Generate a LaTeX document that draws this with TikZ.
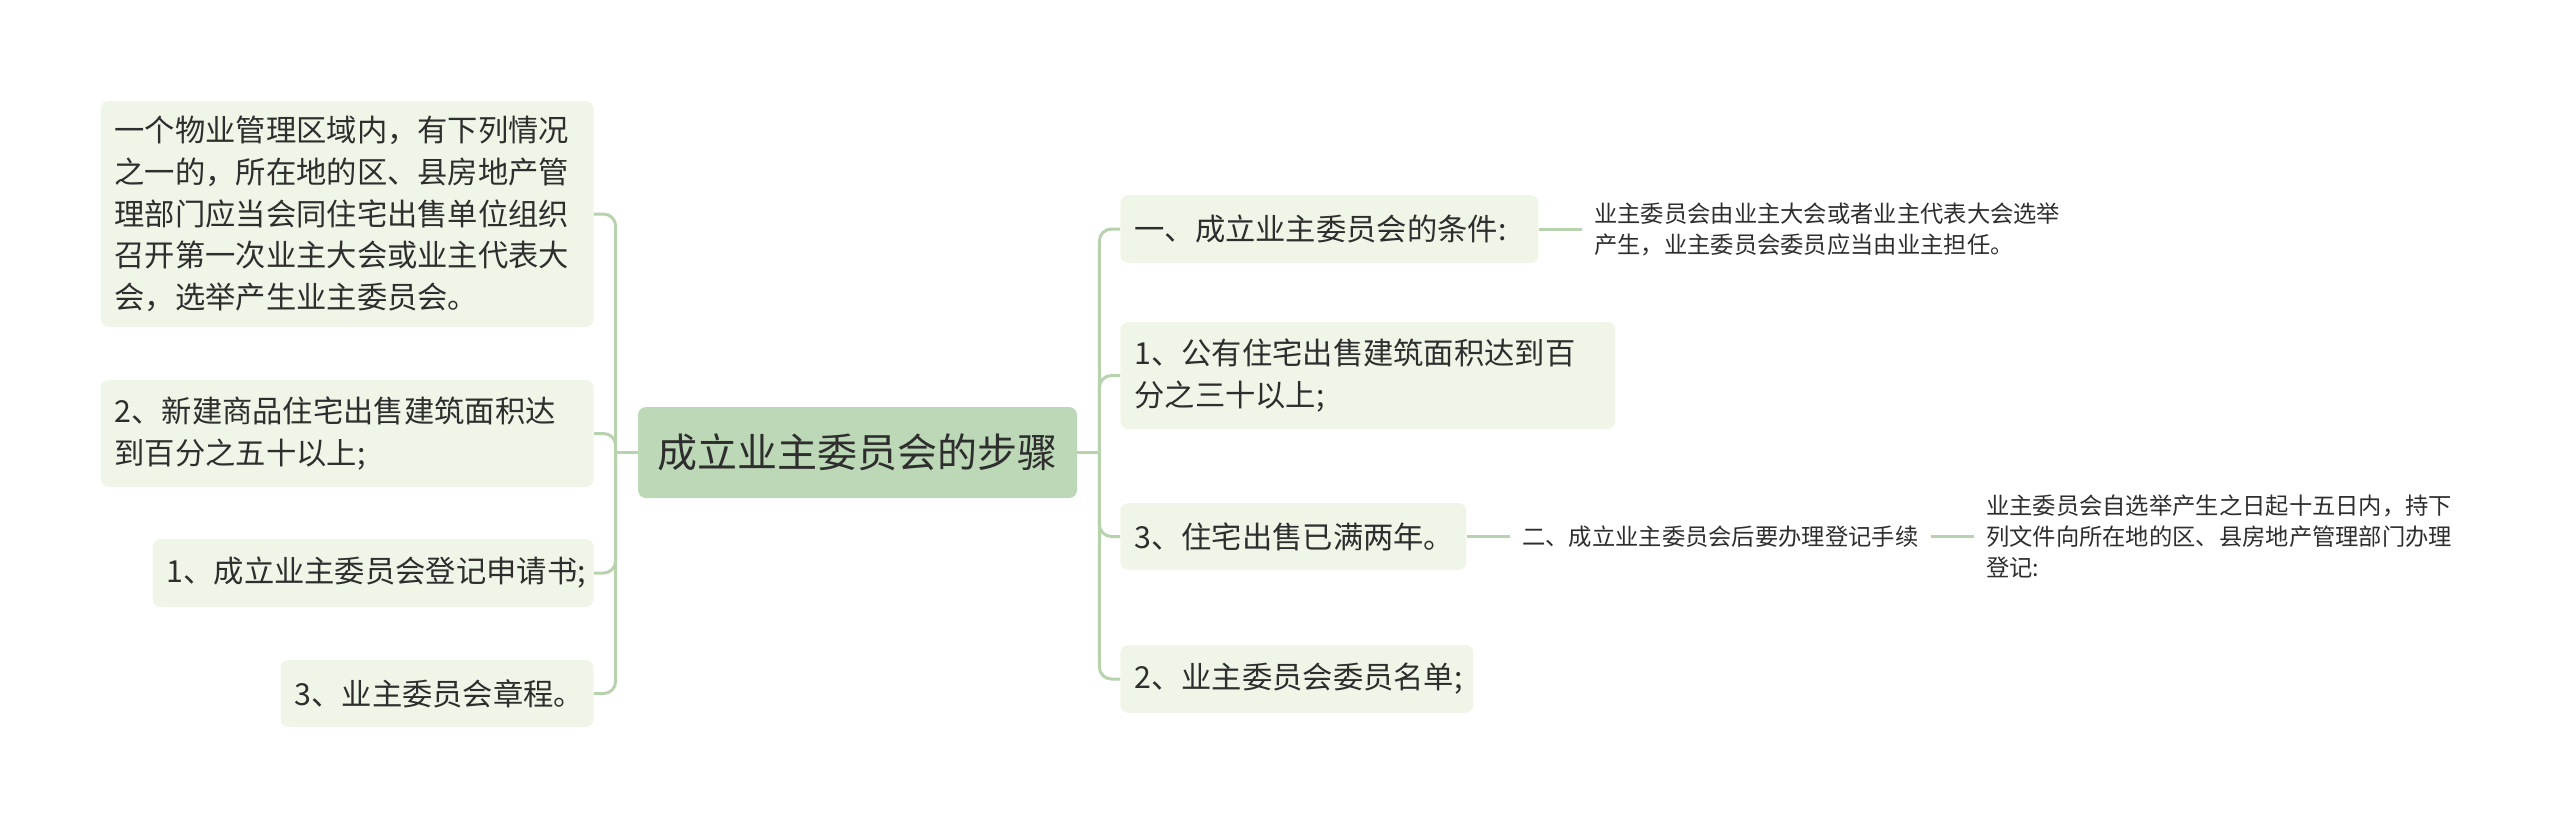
\documentclass[tikz,border=0pt]{standalone}
\usepackage{fontspec}
\setmainfont{Noto Sans CJK SC}
\usepackage{xcolor}
\usepackage{tikz}
\usetikzlibrary{positioning}
\definecolor{rootCol}{HTML}{BDD8B7}
\definecolor{topicCol}{HTML}{EFF6E8}
\definecolor{linkCol}{HTML}{B7D3AE}
\definecolor{txtCol}{HTML}{2E2E2E}
\tikzset{
  rootbox/.style={fill=rootCol, rounded corners=4pt, align=center, text=txtCol,
        font=\fontsize{20pt}{24pt}\selectfont, inner sep=0pt,
        minimum width=219.5pt, minimum height=45.5pt},
  topic/.style n args={2}{fill=topicCol, rounded corners=4pt, align=left, text=txtCol,
        font=\fontsize{15.15pt}{20.8pt}\selectfont, inner xsep=7pt, inner ysep=0pt,
        text width=#1, minimum height=#2},
  leaf/.style={align=left, text=txtCol, font=\fontsize{11.65pt}{15.5pt}\selectfont,
        inner xsep=6pt},
  link/.style={draw=linkCol, line width=1.5pt, rounded corners=6pt},
}
\begin{document}
\begin{tikzpicture}[x=0.5pt,y=-0.5pt]
  \useasboundingbox (0,0) rectangle (2560,827);
  \node[rootbox] (root) at (857.5,452.5) {成立业主委员会的步骤};
  \coordinate[left=11pt of root] (lj);
  \coordinate[right=11pt of root] (rj);
  \node[topic={232.5pt}{113pt}, anchor=east] (l1) at (594,214)
    {一个物业管理区域内，有下列情况\\之一的，所在地的区、县房地产管\\理部门应当会同住宅出售单位组织\\召开第一次业主大会或业主代表大\\会，选举产生业主委员会。};
  \node[topic={232.5pt}{53.5pt}, anchor=east] (l2) at (594,433.5)
    {2、新建商品住宅出售建筑面积达\\到百分之五十以上;};
  \node[topic={206.5pt}{34pt}, anchor=east] (l3) at (594,573) {1、成立业主委员会登记申请书;};
  \node[topic={142.5pt}{33.5pt}, anchor=east] (l4) at (594,693.5) {3、业主委员会章程。};
  \node[topic={195pt}{34pt}, anchor=west] (r1) at (1120,229) {一、成立业主委员会的条件:};
  \node[topic={233.5pt}{53.5pt}, anchor=west] (r2) at (1120,375.5)
    {1、公有住宅出售建筑面积达到百\\分之三十以上;};
  \node[topic={159pt}{33.5pt}, anchor=west] (r3) at (1120,536.5) {3、住宅出售已满两年。};
  \node[topic={162.5pt}{34pt}, anchor=west] (r4) at (1120,679) {2、业主委员会委员名单;};
  \node[leaf, right=21.5pt of r1] (r1a)
    {业主委员会由业主大会或者业主代表大会选举\\产生，业主委员会委员应当由业主担任。};
  \node[leaf, right=21.5pt of r3] (r3a) {二、成立业主委员会后要办理登记手续};
  \node[leaf, right=21.5pt of r3a] (r3b)
    {业主委员会自选举产生之日起十五日内，持下\\列文件向所在地的区、县房地产管理部门办理\\登记:};
  \draw[link] (root) -- (lj);
  \draw[link] (root) -- (rj);
  \foreach \n in {l1,l2,l3,l4}
    \draw[link] (lj) |- (\n.east);
  \foreach \n in {r1,r2,r3,r4}
    \draw[link] (rj) |- (\n.west);
  \draw[link] (r1) -- (r1a);
  \draw[link] (r3) -- (r3a);
  \draw[link] (r3a) -- (r3b);
\end{tikzpicture}
\end{document}
